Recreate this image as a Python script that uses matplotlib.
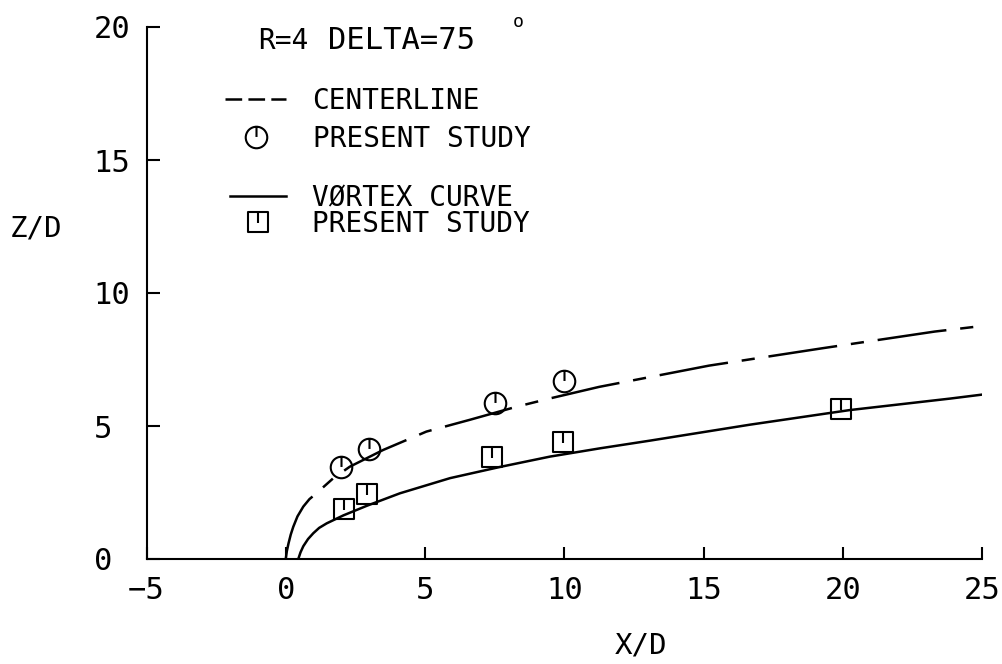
import matplotlib
matplotlib.use('Agg')
import matplotlib.pyplot as plt
from matplotlib.path import Path
from matplotlib.lines import Line2D

# centerline (dashed)
cl_x = [0.0, 0.04, 0.1, 0.18, 0.27, 0.42, 0.63, 0.85, 1.1, 1.7, 2.3, 3.5, 5.05, 6.6, 8.27, 9.5, 11.25, 15.2, 19.25, 23.3, 25.0]
cl_z = [0.0, 0.3, 0.59, 0.92, 1.21, 1.6, 1.97, 2.25, 2.47, 3.03, 3.47, 4.10, 4.79, 5.23, 5.72, 6.04, 6.47, 7.27, 7.92, 8.55, 8.76]

# vortex curve (solid)
vc_x = [0.45, 0.53, 0.63, 0.8, 0.99, 1.2, 1.47, 2.07, 2.91, 4.10, 5.90, 7.69, 9.49, 11.28, 13.08, 16.67, 20.26, 23.85, 25.0]
vc_z = [0.0, 0.25, 0.48, 0.75, 0.97, 1.17, 1.34, 1.64, 2.0, 2.47, 3.04, 3.46, 3.85, 4.16, 4.45, 5.05, 5.6, 6.03, 6.18]

# present study data
cl_data_x = [2.0, 3.0, 7.5, 10.0]
cl_data_z = [3.45, 4.12, 5.85, 6.69]
vc_data_x = [2.1, 2.9, 7.4, 9.95, 19.95]
vc_data_z = [1.88, 2.43, 3.82, 4.40, 5.64]

xticks = [-5, 0, 5, 10, 15, 20, 25]
yticks = [0, 5, 10, 15, 20]

plt.rcParams['font.family'] = 'DejaVu Sans Mono'
plt.rcParams['lines.scale_dashes'] = False

# markers: circle / square with a small stroke from the top
circ = Path.make_compound_path(Path.unit_circle(), Path([(0, 1), (0, 0.05)]))
sq = Path.make_compound_path(
    Path([(-1, -1), (1, -1), (1, 1), (-1, 1), (-1, -1)], closed=True),
    Path([(0, 1), (0, -0.1)]))

fig = plt.figure(figsize=(10.02, 6.64), dpi=100)
ax = fig.add_axes([146.5 / 1002, 105 / 664, 835.5 / 1002, 532 / 664])

ax.plot(cl_x, cl_z, color='black', lw=1.8, ls=(0, (50, 10, 9.5, 10)))
ax.plot(vc_x, vc_z, color='black', lw=1.8)
ax.plot(cl_data_x, cl_data_z, ls='none', marker=circ, ms=15.5, mfc='none', mec='black', mew=1.5)
ax.plot(vc_data_x, vc_data_z, ls='none', marker=sq, ms=15, mfc='none', mec='black', mew=1.5)

ax.set_xlim(-5, 25)
ax.set_ylim(0, 20)
ax.set_xticks(xticks)
ax.set_yticks(yticks)
for s in ['top', 'right']:
    ax.spines[s].set_visible(False)
for s in ['left', 'bottom']:
    ax.spines[s].set_linewidth(1.5)
ax.tick_params(direction='in', length=9, width=1.5, labelsize=22)
ax.tick_params(axis='x', pad=12)
ax.tick_params(axis='y', pad=38)
for lab in ax.get_yticklabels():
    lab.set_ha('left')

ax.set_xlabel('X/D', fontsize=21, va='center')
ax.xaxis.set_label_coords(0.592, -0.1635)
ax.set_ylabel('Z/D', fontsize=21, rotation=0, ha='center', va='center')
ax.yaxis.set_label_coords(-0.132, 0.622)

ax.text(0.1335, 0.974, 'R=4', transform=ax.transAxes, fontsize=20, va='center', ha='left')
ax.text(0.217, 0.974, 'DELTA=75', transform=ax.transAxes, fontsize=22, va='center', ha='left')
ax.text(0.438, 1.01, 'o', transform=ax.transAxes, fontsize=13, va='center', ha='left')

h1 = [Line2D([], [], color='black', lw=1.8, ls=(0, (12, 4.5))),
      Line2D([], [], ls='none', marker=circ, ms=15.5, mfc='none', mec='black', mew=1.5)]
h2 = [Line2D([], [], color='black', lw=1.8),
      Line2D([], [], ls='none', marker=sq, ms=15, mfc='none', mec='black', mew=1.5)]
leg1 = ax.legend(h1, ['CENTERLINE', 'PRESENT STUDY'], loc='upper left',
                 bbox_to_anchor=(0.094, 0.8875), frameon=False, fontsize=20,
                 borderpad=0, borderaxespad=0, handlelength=2.2, handletextpad=0.95,
                 labelspacing=0.35)
ax.add_artist(leg1)
ax.legend(h2, ['VØRTEX CURVE', 'PRESENT STUDY'], loc='upper left',
          bbox_to_anchor=(0.100, 0.7045), frameon=False, fontsize=20,
          borderpad=0, borderaxespad=0, handlelength=2.0, handletextpad=0.95,
          labelspacing=-0.08)

fig.savefig('out.png', dpi=100)
